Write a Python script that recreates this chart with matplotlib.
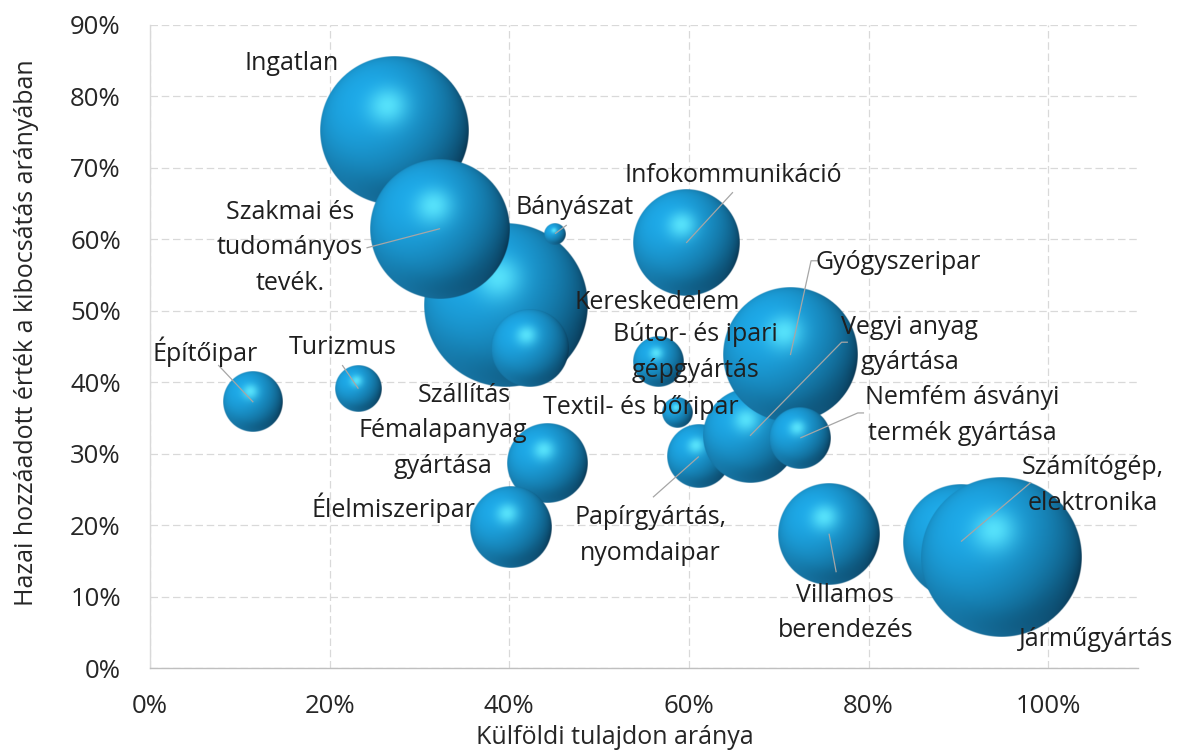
import numpy as np
import matplotlib
matplotlib.use("Agg")
import matplotlib.pyplot as plt
from matplotlib.ticker import PercentFormatter, MultipleLocator

plt.rcParams['font.family'] = ['Open Sans', 'DejaVu Sans']

# ---------------- data ----------------
categories = [
    "Ingatlan", "Kereskedelem", "Szakmai és tudományos tevék.", "Bányászat",
    "Szállítás", "Infokommunikáció", "Bútor- és ipari gépgyártás",
    "Papírgyártás, nyomdaipar", "Vegyi anyag gyártása", "Gyógyszeripar",
    "Textil- és bőripar", "Nemfém ásványi termék gyártása",
    "Fémalapanyag gyártása", "Élelmiszeripar", "Építőipar", "Turizmus",
    "Villamos berendezés", "Számítógép, elektronika", "Járműgyártás",
]
# Külföldi tulajdon aránya (x)
foreign_share = [0.272, 0.396, 0.323, 0.451, 0.423, 0.597, 0.566, 0.611,
                 0.668, 0.713, 0.587, 0.724, 0.442, 0.402, 0.115, 0.232,
                 0.756, 0.903, 0.947]
# Hazai hozzáadott érték a kibocsátás arányában (y)
domestic_va = [0.752, 0.508, 0.615, 0.608, 0.448, 0.595, 0.428, 0.296,
               0.325, 0.438, 0.357, 0.322, 0.287, 0.197, 0.372, 0.391,
               0.188, 0.177, 0.155]
# bubble size (relative weight, area-proportional)
bubble_size = [54.8, 67.2, 49.0, 1.2, 15.2, 28.1, 6.3, 10.2, 22.1, 44.9,
               2.3, 9.6, 16.0, 16.8, 9.0, 5.3, 26.0, 33.6, 64.0]

label_text = [
    "Ingatlan", "Kereskedelem", "Szakmai és\ntudományos\ntevék.", "Bányászat",
    "Szállítás", "Infokommunikáció", "Bútor- és ipari\ngépgyártás",
    "Papírgyártás,\nnyomdaipar", "Vegyi anyag\ngyártása", "Gyógyszeripar",
    "Textil- és bőripar", "Nemfém ásványi\ntermék gyártása",
    "Fémalapanyag\ngyártása", "Élelmiszeripar", "Építőipar", "Turizmus",
    "Villamos\nberendezés", "Számítógép,\nelektronika", "Járműgyártás",
]

# ---------------- layout / style ----------------
label_pos = [
    (0.158, 0.846), (0.565, 0.512), (0.156, 0.588), (0.473, 0.644),
    (0.350, 0.382), (0.649, 0.690), (0.607, 0.442), (0.557, 0.186),
    (0.846, 0.452), (0.833, 0.568), (0.546, 0.364), (0.904, 0.354),
    (0.326, 0.307), (0.271, 0.224), (0.061, 0.442), (0.215, 0.448),
    (0.774, 0.077), (1.050, 0.255), (1.053, 0.040),
]
# leader line start points (label side); the line ends at the data point
leader_start = {
    "Szakmai és tudományos tevék.": [(0.241, 0.588)],
    "Bányászat": [(0.464, 0.620)],
    "Infokommunikáció": [(0.649, 0.666)],
    "Gyógyszeripar": [(0.745, 0.570), (0.736, 0.570)],
    "Vegyi anyag gyártása": [(0.777, 0.456), (0.770, 0.456)],
    "Nemfém ásványi termék gyártása": [(0.795, 0.357), (0.788, 0.357)],
    "Papírgyártás, nyomdaipar": [(0.560, 0.239)],
    "Villamos berendezés": [(0.764, 0.134)],
    "Számítógép, elektronika": [(0.981, 0.260)],
    "Építőipar": [(0.076, 0.424)],
    "Turizmus": [(0.214, 0.424)],
}

W, H = 1188, 753
fig = plt.figure(figsize=(W / 100, H / 100), dpi=100)
ax = fig.add_axes([150 / W, 1 - 668 / H, 988 / W, 643 / H])
XLIM, YLIM = (0, 1.1), (0, 0.9)
ax.set_xlim(*XLIM)
ax.set_ylim(*YLIM)

ax.xaxis.set_major_locator(MultipleLocator(0.2))
ax.yaxis.set_major_locator(MultipleLocator(0.1))
ax.xaxis.set_major_formatter(PercentFormatter(1.0, decimals=0))
ax.yaxis.set_major_formatter(PercentFormatter(1.0, decimals=0))
ax.grid(True, color='#d9d9d9', linestyle=(0, (6, 3)), linewidth=0.9, zorder=0)
ax.set_axisbelow(True)
for s in ('top', 'right'):
    ax.spines[s].set_visible(False)
ax.spines['left'].set_color('#d9d9d9')
ax.spines['bottom'].set_color('#bfbfbf')
ax.spines['left'].set_linewidth(1.0)
ax.spines['bottom'].set_linewidth(1.0)
ax.tick_params(axis='both', length=0, labelsize=18.5, labelcolor='#262626')
ax.tick_params(axis='x', pad=19)
ax.tick_params(axis='y', pad=21)

ax.set_xlabel("Külföldi tulajdon aránya", fontsize=18, color='#262626')
ax.set_ylabel("Hazai hozzáadott érték a kibocsátás arányában", fontsize=18,
              color='#262626')
ax.xaxis.set_label_coords((615 - 150) / 988, (668 - 738) / 643)
ax.xaxis.label.set_va('center')
ax.yaxis.set_label_coords((27 - 150) / 988, (668 - 333) / 643)
ax.yaxis.label.set_va('center')

# pixel scale of data units
p0 = ax.transData.transform((0, 0))
p1 = ax.transData.transform((1, 1))
px_per_x = p1[0] - p0[0]
px_per_y = p1[1] - p0[1]
RADIUS_SCALE = 10.0  # px per sqrt(size unit)


def sphere_rgba(n, r_px):
    lin = np.linspace(-1, 1, n)
    xx, yy = np.meshgrid(lin, -lin)
    rr = np.sqrt(xx ** 2 + yy ** 2)
    nz = np.sqrt(np.clip(1 - rr ** 2, 0, 1))
    L = np.array([-0.42, 0.45, 0.79]); L /= np.linalg.norm(L)
    ndl = xx * L[0] + yy * L[1] + nz * L[2]
    w = 0.55
    diff = np.clip((ndl + w) / (1 + w), 0, 1)
    base = np.array([28, 160, 220]) / 255
    dark = np.array([3, 28, 48]) / 255
    k = 0.12 + 0.95 * diff
    col = dark + (base - dark) * k[..., None]
    Hv = np.array([-0.10, 0.36, 1.0]); Hv /= np.linalg.norm(Hv)
    ndh = np.clip(xx * Hv[0] + yy * Hv[1] + nz * Hv[2], 0, 1)
    spec = ndh ** 28
    hi = np.array([95, 235, 255]) / 255
    col = col + (hi - col) * (0.85 * spec)[..., None]
    rim = np.clip((rr - 0.70) / 0.30, 0, 1) ** 1.5 * np.clip(-yy - 0.25 * xx, 0, 1)
    rimc = np.array([32, 150, 208]) / 255
    col = col + (rimc - col) * (0.5 * rim)[..., None]
    col = np.clip(col, 0, 1)
    alpha = np.clip((1 - rr) * r_px + 0.5, 0, 1)
    return np.dstack([col, alpha])


for i, (x, y, s) in enumerate(zip(foreign_share, domestic_va, bubble_size)):
    r_px = RADIUS_SCALE * np.sqrt(s)
    rx, ry = r_px / px_per_x, r_px / px_per_y
    n = max(int(r_px * 4), 24)
    img = sphere_rgba(n, r_px * 2)
    ax.imshow(img, extent=[x - rx, x + rx, y - ry, y + ry], origin='upper',
              aspect='auto', interpolation='bilinear', zorder=2 + i * 0.01)

ax.set_xlim(*XLIM)
ax.set_ylim(*YLIM)

for name, x, y in zip(categories, foreign_share, domestic_va):
    if name in leader_start:
        pts = leader_start[name] + [(x, y)]
        ax.plot([p[0] for p in pts], [p[1] for p in pts], color='#a6a6a6',
                lw=0.9, zorder=5, solid_capstyle='butt')

for txt, (lx, ly) in zip(label_text, label_pos):
    ax.text(lx, ly, txt, fontsize=18, color='#1f1f1f', ha='center',
            va='center', multialignment='center', linespacing=1.57, zorder=6,
            clip_on=False)

fig.savefig("out.png", dpi=100)
